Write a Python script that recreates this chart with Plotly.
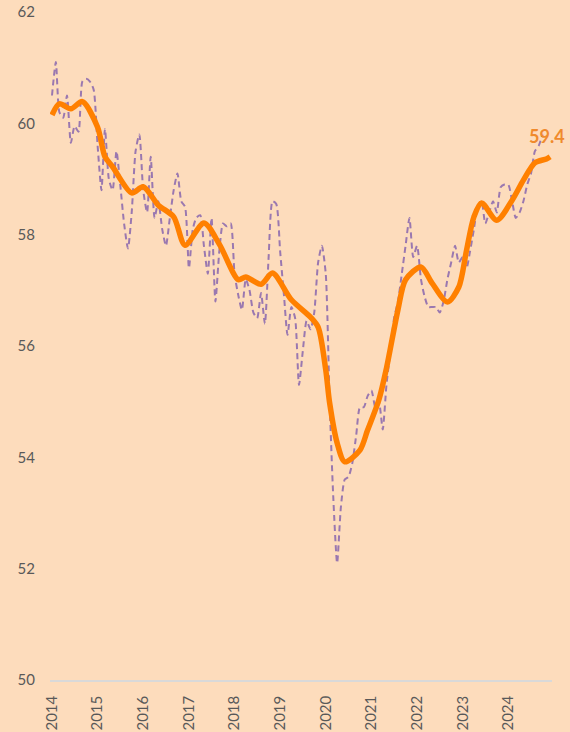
import pandas as pd
import plotly.graph_objects as go

# monthly index, Jan 2014 onwards (dashed series)
monthly = [
    60.5, 61.1, 60.2, 60.1, 60.5, 59.65, 59.95, 59.85, 60.75, 60.8, 60.75, 60.6,   # 2014
    59.6, 58.8, 59.9, 59.0, 58.8, 59.5, 58.9, 58.2, 57.75, 58.4, 59.5, 59.8,       # 2015
    58.8, 58.4, 59.4, 58.3, 58.6, 58.1, 57.8, 58.3, 58.8, 59.1, 58.6, 58.5,        # 2016
    57.4, 58.1, 58.3, 58.35, 57.8, 57.3, 58.3, 56.8, 57.7, 58.2, 58.15, 58.2,      # 2017
    57.3, 56.9, 56.65, 57.2, 57.0, 56.6, 56.5, 56.95, 56.4, 57.6, 58.6, 58.55,     # 2018
    57.7, 56.9, 56.2, 56.7, 56.5, 55.3, 55.9, 56.45, 56.3, 56.6, 57.5, 57.8,       # 2019
    57.3, 55.0, 53.3, 52.1, 53.1, 53.6, 53.65, 53.9, 54.4, 54.9, 54.9, 55.1,       # 2020
    55.2, 54.9, 55.0, 54.5, 55.3, 55.9, 56.5, 56.8, 57.3, 57.8, 58.3, 57.6,        # 2021
    57.8, 57.2, 56.9, 56.7, 56.7, 56.7, 56.6, 56.8, 57.2, 57.5, 57.8, 57.5,        # 2022
    57.6, 57.4, 57.7, 58.1, 58.5, 58.6, 58.2, 58.4, 58.6, 58.4, 58.85, 58.9,       # 2023
    58.9, 58.6, 58.3, 58.4, 58.6, 58.9, 59.1, 59.5, 59.6, 59.8,                    # 2024
]
monthly_dates = pd.date_range("2014-01-01", periods=len(monthly), freq="MS")

# smoothed trend (read at turning points)
trend_dates = ["2014-01", "2014-03", "2014-06", "2014-09", "2015-01", "2015-03", "2015-05",
               "2015-10", "2016-01", "2016-05", "2016-09", "2016-12", "2017-05", "2017-09",
               "2018-02", "2018-04", "2018-08", "2018-11", "2019-04", "2019-09", "2019-11",
               "2020-01", "2020-02", "2020-04", "2020-06", "2020-10", "2020-12", "2021-03",
               "2021-05", "2021-08", "2021-10", "2022-02", "2022-05", "2022-09", "2022-12",
               "2023-02", "2023-04", "2023-06", "2023-10", "2024-02", "2024-05", "2024-08",
               "2024-11", "2024-12"]
trend = [60.15, 60.35, 60.26, 60.39, 59.93, 59.40, 59.22,
         58.75, 58.86, 58.53, 58.32, 57.81, 58.21, 57.83,
         57.19, 57.24, 57.11, 57.31, 56.83, 56.52, 56.34,
         55.57, 54.98, 54.26, 53.92, 54.13, 54.49, 55.03,
         55.6, 56.65, 57.19, 57.42, 57.13, 56.79, 57.06,
         57.72, 58.32, 58.57, 58.26, 58.62, 58.98, 59.29,
         59.36, 59.40]
trend_dates = pd.to_datetime(trend_dates)

year_ticks = pd.date_range("2014-01-01", "2024-01-01", freq="YS")

bg = "#FDDCBC"
fig = go.Figure()
fig.add_trace(go.Scatter(x=monthly_dates, y=monthly, mode="lines",
                         line=dict(color="#9A78B0", width=2, dash="6px,4px", shape="spline", smoothing=0.6)))
fig.add_trace(go.Scatter(x=trend_dates, y=trend, mode="lines",
                         line=dict(color="#FF8000", width=5.5, shape="spline", smoothing=0.8)))

fig.add_annotation(x=trend_dates[-1], y=trend[-1], text="<b>59.4</b>", showarrow=False,
                   xanchor="right", yanchor="bottom", yshift=8, xshift=17,
                   font=dict(color="#F08A2C", size=18, family="Lato"))

fig.update_layout(
    width=570, height=732, showlegend=False,
    paper_bgcolor=bg, plot_bgcolor=bg,
    margin=dict(l=50, r=18, t=12, b=52, autoexpand=False),
    font=dict(family="Lato", color="#595959"),
    yaxis=dict(range=[50, 62], dtick=2, tick0=50, showgrid=False, zeroline=False,
               showline=False, tickfont=dict(size=15), ticklabelstandoff=14, automargin=False),
    xaxis=dict(range=["2013-12-16", "2024-12-16"], tickvals=year_ticks,
               ticktext=[str(d.year) for d in year_ticks], tickangle=-90,
               showgrid=False, zeroline=False, showline=True, linecolor="#D9D9D9", linewidth=1.5,
               tickfont=dict(size=15), ticklabelstandoff=8, automargin=False),
)

# page body has a default 8px margin; drop it so the figure fills the window
fig.write_html("out.html", config={"displayModeBar": False},
               post_script="document.body.style.margin='0';")
